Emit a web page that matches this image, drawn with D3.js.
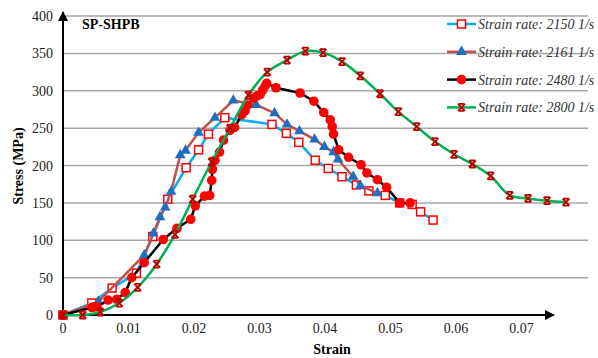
<!DOCTYPE html>
<html lang="en">
<head>
<meta charset="UTF-8">
<title>SP-SHPB stress-strain</title>
<script src="https://d3js.org/d3.v7.min.js"></script>
<style>
    body { margin: 0; background: #fff; }
</style>
</head>
<body>
<div id="chart"></div>
<script>
// strain rate 2150 1/s
const strain2150 = [0, 0.0044, 0.0075, 0.0112, 0.0137, 0.016, 0.0188, 0.0207, 0.0222, 0.0247, 0.0319, 0.0341, 0.036, 0.0385, 0.0405, 0.0426, 0.0448, 0.0467, 0.0492, 0.0514, 0.0533, 0.0546, 0.0565];
const stress2150 = [0, 16, 36, 56, 105, 155, 197, 221, 242, 264, 255, 243, 231, 207, 196, 185, 174, 166, 160, 150, 148, 138, 127];

// strain rate 2161 1/s
const strain2161 = [0, 0.0054, 0.0124, 0.0138, 0.0148, 0.0156, 0.0165, 0.0179, 0.0187, 0.0207, 0.0232, 0.026, 0.0295, 0.0323, 0.0342, 0.0361, 0.0384, 0.0399, 0.0413, 0.042, 0.0443, 0.0454, 0.048];
const stress2161 = [0, 18, 80, 109, 131, 144, 165, 214, 220, 244, 264, 287, 281, 270, 255, 246, 235, 225, 218, 208, 185, 173, 163];

// strain rate 2480 1/s
const strain2480 = [0, 0.0044, 0.0048, 0.0052, 0.0069, 0.0082, 0.0095, 0.0105, 0.0124, 0.0153, 0.0174, 0.0195, 0.0202, 0.0216, 0.0224, 0.0227, 0.0228, 0.0232, 0.0239, 0.0245, 0.0255, 0.0262, 0.0273, 0.0278, 0.0282, 0.0291, 0.0296, 0.0301, 0.0305, 0.0309, 0.0311, 0.0325, 0.0362, 0.0383, 0.0398, 0.0408, 0.0411, 0.0413, 0.0421, 0.0436, 0.0455, 0.0464, 0.048, 0.0494, 0.0514, 0.053];
const stress2480 = [0, 10, 11, 11, 20, 21, 30, 50, 70, 101, 116, 128, 146, 159, 160, 180, 195, 207, 218, 234, 247, 251, 268, 273, 281, 290, 293, 295, 301, 307, 310, 304, 297, 286, 271, 261, 252, 242, 221, 211, 201, 190, 181, 171, 150, 150];

// strain rate 2800 1/s
const strain2800 = [0, 0.003, 0.0057, 0.0086, 0.0114, 0.0143, 0.0171, 0.0198, 0.0227, 0.0255, 0.0283, 0.0312, 0.0342, 0.037, 0.0397, 0.0426, 0.0454, 0.0484, 0.0512, 0.054, 0.0568, 0.0597, 0.0625, 0.0653, 0.0682, 0.071, 0.0739, 0.0768];
const stress2800 = [0, 0, 4, 16, 37, 68, 108, 155, 205, 250, 294, 325, 341, 353, 351, 339, 320, 296, 272, 252, 232, 215, 202, 186, 160, 156, 153, 151];

const xTicks = [0, 0.01, 0.02, 0.03, 0.04, 0.05, 0.06, 0.07];
const yTicks = [0, 50, 100, 150, 200, 250, 300, 350, 400];
const legendLabels = ["Strain rate: 2150 1/s", "Strain rate: 2161 1/s", "Strain rate: 2480 1/s", "Strain rate: 2800 1/s"];

const serif = "'Liberation Serif', 'Times New Roman', Times, serif";
const width = 598, height = 358;
const svg = d3.select("#chart").append("svg")
    .attr("width", width)
    .attr("height", height)
    .attr("font-family", serif);

const x = d3.scaleLinear().domain([0, 0.08]).range([63, 587]);
const y = d3.scaleLinear().domain([0, 400]).range([315, 16]);

// gridlines
svg.append("g").selectAll("line")
    .data(yTicks.filter(d => d > 0))
    .join("line")
    .attr("x1", x(0)).attr("x2", 588)
    .attr("y1", d => y(d)).attr("y2", d => y(d))
    .attr("stroke", "#a6a6a6")
    .attr("stroke-width", 1.5);

// axis arrows
const defs = svg.append("defs");
defs.append("marker")
    .attr("id", "arrow")
    .attr("viewBox", "0 0 10 10")
    .attr("refX", 9).attr("refY", 5)
    .attr("markerWidth", 5).attr("markerHeight", 5)
    .attr("orient", "auto")
    .append("path")
    .attr("d", "M0,0 L10,5 L0,10 z")
    .attr("fill", "#000");

svg.append("line")
    .attr("x1", x(0)).attr("x2", 554)
    .attr("y1", y(0)).attr("y2", y(0))
    .attr("stroke", "#000").attr("stroke-width", 2)
    .attr("marker-end", "url(#arrow)");
svg.append("line")
    .attr("x1", x(0)).attr("x2", x(0))
    .attr("y1", y(0)).attr("y2", 12)
    .attr("stroke", "#000").attr("stroke-width", 2)
    .attr("marker-end", "url(#arrow)");

// tick labels
svg.append("g").selectAll("text")
    .data(yTicks)
    .join("text")
    .attr("x", 53).attr("y", d => y(d) + 5)
    .attr("text-anchor", "end")
    .attr("font-family", serif)
    .attr("font-size", 14)
    .attr("fill", "#222")
    .text(d => d);

svg.append("g").selectAll("text")
    .data(xTicks)
    .join("text")
    .attr("x", d => x(d)).attr("y", 333)
    .attr("text-anchor", "middle")
    .attr("font-family", serif)
    .attr("font-size", 14)
    .attr("fill", "#222")
    .text(d => d);

// titles
svg.append("text")
    .attr("x", 332).attr("y", 354)
    .attr("text-anchor", "middle")
    .attr("font-family", serif)
    .attr("font-size", 14).attr("font-weight", "bold")
    .text("Strain");
svg.append("text")
    .attr("transform", "translate(23,166) rotate(-90)")
    .attr("text-anchor", "middle")
    .attr("font-family", serif)
    .attr("font-size", 14).attr("font-weight", "bold")
    .text("Stress (MPa)");
svg.append("text")
    .attr("x", 82).attr("y", 29)
    .attr("font-family", serif)
    .attr("font-size", 14).attr("font-weight", "bold")
    .text("SP-SHPB");

// series
const series = [
    { xs: strain2150, ys: stress2150, line: "#00b0f0", curve: d3.curveLinear, marker: "square" },
    { xs: strain2161, ys: stress2161, line: "#c0504d", curve: d3.curveLinear, marker: "triangle" },
    { xs: strain2480, ys: stress2480, line: "#000000", curve: d3.curveLinear, marker: "circle" },
    { xs: strain2800, ys: stress2800, line: "#00b050", curve: d3.curveCatmullRom.alpha(0.5), marker: "star" }
];

function drawMarker(g, type, cx, cy) {
    if (type === "square") {
        g.append("rect")
            .attr("x", cx - 4).attr("y", cy - 4)
            .attr("width", 8).attr("height", 8)
            .attr("fill", "#fff").attr("stroke", "#ff0000").attr("stroke-width", 1.5);
    } else if (type === "triangle") {
        g.append("path")
            .attr("d", d3.symbol(d3.symbolTriangle, 50)())
            .attr("transform", `translate(${cx},${cy})`)
            .attr("fill", "#1f6fc0");
    } else if (type === "circle") {
        g.append("circle")
            .attr("cx", cx).attr("cy", cy).attr("r", 4.8)
            .attr("fill", "#ff0000");
    } else {
        g.append("path")
            .attr("d", `M${cx - 3.5},${cy - 3.5}L${cx + 3.5},${cy + 3.5}M${cx + 3.5},${cy - 3.5}L${cx - 3.5},${cy + 3.5}M${cx - 3},${cy - 3.5}L${cx + 3},${cy - 3.5}M${cx - 3},${cy + 3.5}L${cx + 3},${cy + 3.5}`)
            .attr("stroke", "#c00000").attr("stroke-width", 1.8).attr("fill", "none");
    }
}

series.forEach(s => {
    const pts = s.xs.map((v, i) => [v, s.ys[i]]);
    const g = svg.append("g");
    g.append("path")
        .datum(pts)
        .attr("d", d3.line().x(d => x(d[0])).y(d => y(d[1])).curve(s.curve))
        .attr("fill", "none")
        .attr("stroke", s.line)
        .attr("stroke-width", 2.5)
        .attr("stroke-linejoin", "round");
    pts.forEach(p => drawMarker(g, s.marker, x(p[0]), y(p[1])));
});

// legend
const legend = svg.append("g");
legendLabels.forEach((label, i) => {
    const ly = 24 + i * 27.8;
    legend.append("line")
        .attr("x1", 447).attr("x2", 476)
        .attr("y1", ly).attr("y2", ly)
        .attr("stroke", series[i].line).attr("stroke-width", 2.5);
    drawMarker(legend, series[i].marker, 461.5, ly);
    legend.append("text")
        .attr("x", 478).attr("y", ly + 5)
        .attr("font-family", serif)
        .attr("font-size", 14).attr("font-style", "italic")
        .attr("fill", "#333")
        .text(label);
});
</script>
</body>
</html>
